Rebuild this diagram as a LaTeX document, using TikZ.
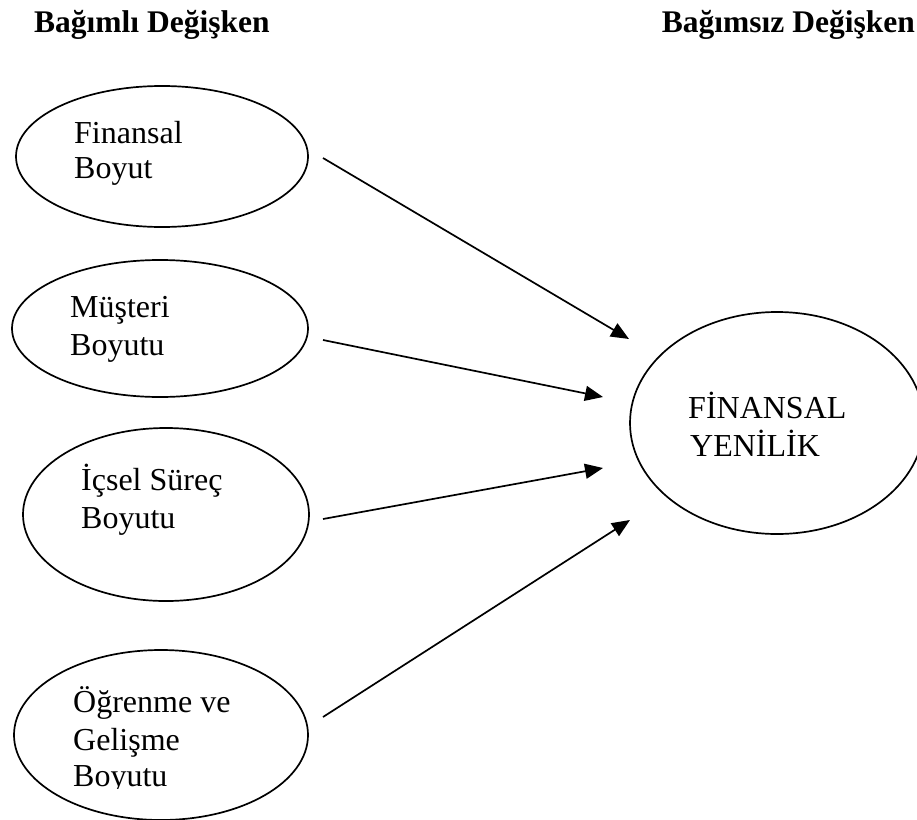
\documentclass[tikz,border=0pt]{standalone}
\usepackage{fontspec}
\setmainfont{Liberation Serif}
\usetikzlibrary{shapes.geometric,arrows.meta}
\begin{document}
\begin{tikzpicture}[x=1pt,y=-1pt,
  oval/.style={draw, ellipse, line width=1.7pt, inner sep=0pt},
  lbl/.style={anchor=base west, inner sep=0pt, font=\fontsize{32}{38}\selectfont},
  hdr/.style={inner sep=0pt, font=\fontsize{31.5}{37}\selectfont\bfseries},
  arr/.style={line width=1.7pt, -{Triangle[length=18pt,width=15pt]}}]
\useasboundingbox (0,0) rectangle (917,819);

% headers
\node[hdr, anchor=base west] (h1) at (34,32) {Bağımlı Değişken};
\node[hdr, anchor=base east] (h2) at (915,32) {Bağımsız Değişken};

% left ellipses
\node[oval, minimum width=292pt, minimum height=141pt] (e1) at (162,156.5) {};
\node[oval, minimum width=296pt, minimum height=137pt] (e2) at (160,328.5) {};
\node[oval, minimum width=286pt, minimum height=173pt] (e3) at (166,514.5) {};
\node[oval, minimum width=294pt, minimum height=170pt] (e4) at (161,735) {};

% big ellipse
\node[oval, minimum width=294pt, minimum height=222pt] (big) at (777,423) {};

% labels
\node[lbl] (t1a) at (74,143) {Finansal};
\node[lbl] (t1b) at (74,178) {Boyut};
\node[lbl] (t2a) at (70,317) {Müşteri};
\node[lbl] (t2b) at (70,355) {Boyutu};
\node[lbl] (t3a) at (81,490) {İçsel Süreç};
\node[lbl] (t3b) at (81,528) {Boyutu};
\node[lbl] (t4a) at (73,712) {Öğrenme ve};
\node[lbl] (t4b) at (73,750) {Gelişme};
\begin{scope}
\clip (0,0) rectangle (917,788);
\node[lbl] (t4c) at (73,786) {Boyutu};
\end{scope}
\node[lbl] (t5a) at (688,418) {FİNANSAL};
\node[lbl] (t5b) at (690,456) {YENİLİK};

% connector ends
\coordinate (s1) at (323,158);
\coordinate (s2) at (323,340);
\coordinate (s3) at (323,519);
\coordinate (s4) at (323,717);
\coordinate (p1) at (629,339);
\coordinate (p2) at (603,397);
\coordinate (p3) at (603,468);
\coordinate (p4) at (630,520);

\draw[arr] (s1) -- (p1);
\draw[arr] (s2) -- (p2);
\draw[arr] (s3) -- (p3);
\draw[arr] (s4) -- (p4);
\end{tikzpicture}
\end{document}
